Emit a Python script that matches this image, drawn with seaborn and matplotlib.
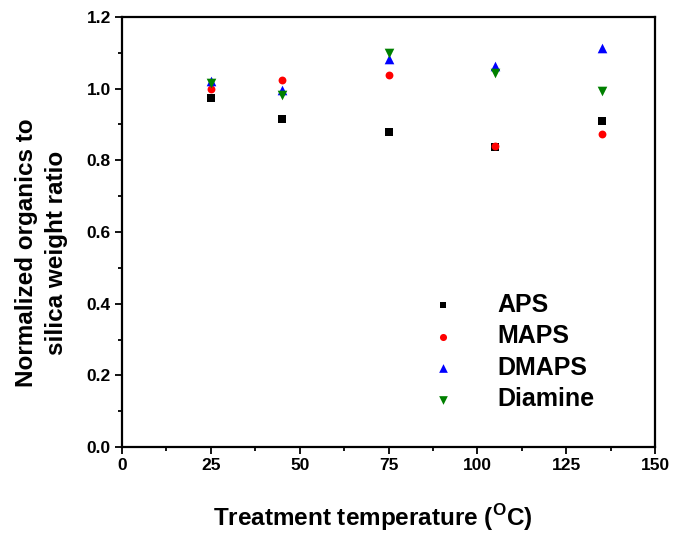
import numpy as np
import pandas as pd
import matplotlib
matplotlib.use("Agg")
import matplotlib.pyplot as plt
import seaborn as sns

# Treatment temperatures (deg C)
temperature = [25, 45, 75, 105, 135]

# Normalized organics-to-silica weight ratios per silane
aps = [0.974, 0.916, 0.880, 0.836, 0.910]
maps = [1.000, 1.024, 1.037, 0.840, 0.873]
dmaps = [1.022, 0.997, 1.083, 1.062, 1.113]
diamine = [1.015, 0.983, 1.100, 1.043, 0.994]

series_names = ["APS", "MAPS", "DMAPS", "Diamine"]
series_values = [aps, maps, dmaps, diamine]
colors = ["#000000", "#ff0000", "#0000ff", "#008000"]
marker_shapes = ["s", "o", "^", "v"]

x_ticks = [0, 25, 50, 75, 100, 125, 150]
y_ticks = [0.0, 0.2, 0.4, 0.6, 0.8, 1.0, 1.2]

rows = []
for name, vals in zip(series_names, series_values):
    for t, v in zip(temperature, vals):
        rows.append({"Temperature": t, "Ratio": v, "Silane": name})
df = pd.DataFrame(rows)

sns.set_style("ticks")
plt.rcParams["font.family"] = ["Liberation Sans", "DejaVu Sans"]
plt.rcParams["font.weight"] = "bold"
plt.rcParams["text.color"] = "black"
plt.rcParams["axes.labelcolor"] = "black"
plt.rcParams["xtick.color"] = "black"
plt.rcParams["ytick.color"] = "black"
plt.rcParams["mathtext.fontset"] = "custom"
plt.rcParams["mathtext.rm"] = "Liberation Sans:bold"
plt.rcParams["mathtext.bf"] = "Liberation Sans:bold"

fig = plt.figure(figsize=(6.73, 5.34), dpi=100)
ax = fig.add_axes([122 / 673, 1 - 447 / 534, 533 / 673, 430 / 534])

sizes = {"APS": 30, "MAPS": 32, "DMAPS": 48, "Diamine": 48}
for name, color, mk in zip(series_names, colors, marker_shapes):
    sub = df[df["Silane"] == name]
    sns.scatterplot(data=sub, x="Temperature", y="Ratio", color=color,
                    marker=mk, s=sizes[name], linewidth=0, ax=ax, label=name,
                    zorder=3)

ax.set_xlim(0, 150)
ax.set_ylim(0, 1.2)
ax.set_xticks(x_ticks)
ax.set_yticks(y_ticks)
ax.set_xticklabels([str(t) for t in x_ticks])
ax.set_yticklabels([f"{t:.1f}" for t in y_ticks])
ax.xaxis.set_minor_locator(matplotlib.ticker.MultipleLocator(12.5))
ax.yaxis.set_minor_locator(matplotlib.ticker.MultipleLocator(0.1))
ax.tick_params(which="major", direction="out", length=5, width=1.3,
               labelsize=12.5, pad=3, colors="black")
ax.tick_params(which="minor", direction="out", length=3, width=1.3,
               colors="black")
for lab in ax.get_xticklabels() + ax.get_yticklabels():
    lab.set_fontweight("bold")
for sp in ax.spines.values():
    sp.set_visible(True)
    sp.set_linewidth(1.6)
    sp.set_color("black")

ax.set_xlabel(r"Treatment temperature ($^{\mathbf{O}}$C)", fontsize=17.5,
              fontweight="bold")
ax.set_ylabel("Normalized organics to\nsilica weight ratio", fontsize=17.5,
              fontweight="bold", linespacing=1.4)
ax.xaxis.set_label_coords(0.471, -0.128)
ax.yaxis.set_label_coords(-0.101, 0.451)

leg = ax.legend(loc="lower left", bbox_to_anchor=(0.537, 0.06), frameon=False,
                fontsize=18, handletextpad=1.15, labelspacing=0.3,
                markerscale=0.9, borderaxespad=0)
for t in leg.get_texts():
    t.set_fontweight("bold")
    t.set_color("black")

fig.savefig("out.png", dpi=100)
